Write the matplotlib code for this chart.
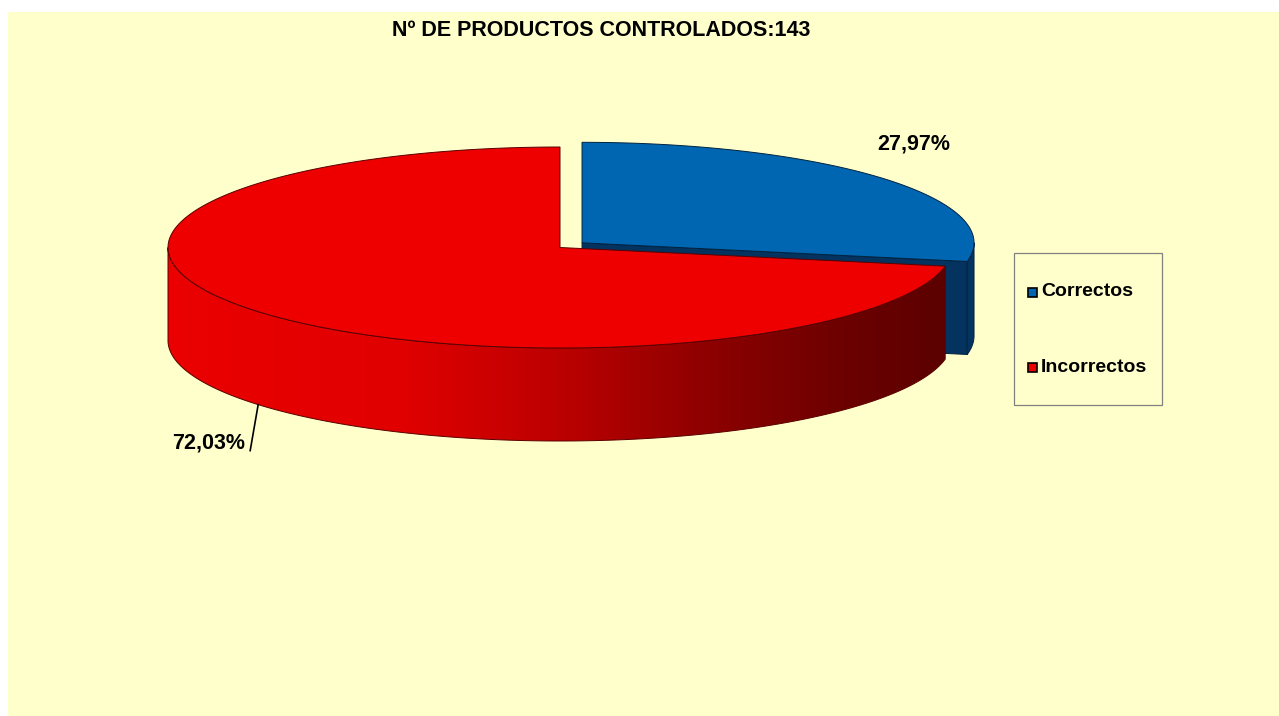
import numpy as np
import matplotlib
matplotlib.use('Agg')
import matplotlib.pyplot as plt
from matplotlib.patches import Polygon, Rectangle
from matplotlib.colors import LinearSegmentedColormap

# ---- data ----
categories = ['Correctos', 'Incorrectos']
counts = [40, 103]
pct_labels = ['27,97%', '72,03%']
title_text = 'Nº DE PRODUCTOS CONTROLADOS:143'

plt.rcParams['font.family'] = ['Liberation Sans', 'DejaVu Sans']

W, H = 1279, 716
fig = plt.figure(figsize=(W / 100, H / 100), dpi=100)
fig.patch.set_facecolor('white')
ax = fig.add_axes([0, 0, 1, 1])
ax.set_xlim(0, W)
ax.set_ylim(H, 0)
ax.axis('off')

BG = '#FFFFCC'
ax.add_patch(Rectangle((8, 12), W - 8, H - 12, facecolor=BG, edgecolor='none', zorder=0))

# ---- pie geometry (pixel layout) ----
cx, cy, a, b, depth = 560, 247.5, 392, 100.5, 93
explode = [0.073, 0.0]
top_colors = ['#0066B2', '#EE0000']
side_colors = ['#03335E', None]
edge_colors = ['#012240', '#5A0000']

frac = np.array(counts, dtype=float) / sum(counts)
slices = []
start = 90.0
for i, f in enumerate(frac):
    t0 = start - f * 360.0
    t1 = start
    mid = (t0 + t1) / 2
    e = explode[i]
    ox = e * a * np.cos(np.radians(mid))
    oy = -e * b * np.sin(np.radians(mid))
    slices.append(dict(i=i, t0=t0, t1=t1, mid=mid, ox=ox, oy=oy))
    start = t0


def arc(t_a, t_b, ox, oy, dz=0.0, n=200):
    t = np.radians(np.linspace(t_a, t_b, n))
    return np.column_stack([cx + ox + a * np.cos(t), cy + oy - b * np.sin(t) + dz])


def side_poly(t_a, t_b, ox, oy):
    top = arc(t_a, t_b, ox, oy)
    bot = arc(t_b, t_a, ox, oy, depth)
    return np.vstack([top, bot])


red_cmap = LinearSegmentedColormap.from_list('redside', [
    (0.0, (0.92, 0.0, 0.0)),
    (0.30, (0.88, 0.0, 0.0)),
    (0.50, (0.74, 0.0, 0.0)),
    (0.70, (0.55, 0.0, 0.0)),
    (0.88, (0.42, 0.0, 0.0)),
    (1.0, (0.36, 0.0, 0.0)),
])

# back slices first
order = sorted(slices, key=lambda s: -np.sin(np.radians(s['mid'])))
z = 2
for s in order:
    i, t0, t1, ox, oy = s['i'], s['t0'], s['t1'], s['ox'], s['oy']
    apex = np.array([cx + ox, cy + oy])
    ec = edge_colors[i]
    # radial faces facing the viewer
    for t, n_ang in ((t0, t0 - 90), (t1, t1 + 90)):
        if np.sin(np.radians(n_ang)) < -1e-6:
            p_out = arc(t, t, ox, oy, n=1)[0]
            face = np.array([apex, p_out, p_out + [0, depth], apex + [0, depth]])
            fc = side_colors[i] if side_colors[i] else '#600000'
            ax.add_patch(Polygon(face, closed=True, facecolor=fc, edgecolor=ec, lw=0.7, zorder=z))
            z += 1
    # outer side (front half: 180..360 in param angle)
    for k in (-360, 0, 360):
        lo, hi = max(t0, 180 + k), min(t1, 360 + k)
        if hi > lo:
            poly = side_poly(lo, hi, ox, oy)
            if side_colors[i]:
                ax.add_patch(Polygon(poly, closed=True, facecolor=side_colors[i],
                                     edgecolor=ec, lw=0.7, zorder=z))
            else:
                x0, x1 = poly[:, 0].min(), poly[:, 0].max()
                y0, y1 = poly[:, 1].min(), poly[:, 1].max()
                grad = np.linspace(0, 1, 512)[None, :]
                im = ax.imshow(grad, cmap=red_cmap, extent=(x0, x1, y1, y0),
                               aspect='auto', zorder=z, interpolation='bilinear')
                clip = Polygon(poly, closed=True, facecolor='none', edgecolor='none',
                               transform=ax.transData)
                ax.add_patch(clip)
                im.set_clip_path(clip)
                ax.add_patch(Polygon(poly, closed=True, facecolor='none', edgecolor=ec,
                                     lw=0.7, zorder=z + 0.5))
            z += 1
    # top face
    top = np.vstack([apex, arc(t0, t1, ox, oy)])
    ax.add_patch(Polygon(top, closed=True, facecolor=top_colors[i], edgecolor=ec, lw=0.7, zorder=z))
    z += 1

ax.set_xlim(0, W)
ax.set_ylim(H, 0)

# ---- percentage labels ----
bold = dict(fontsize=15.5, fontweight='bold', color='black')
ax.text(914, 144, pct_labels[0], ha='center', va='center', zorder=20, **bold)
s_red = slices[1]
m = np.radians(s_red['mid'])
lx = cx + s_red['ox'] + a * np.cos(m)
ly = cy + s_red['oy'] - b * np.sin(m) + depth
ax.plot([lx, lx - 8], [ly, ly + 46], color='black', lw=1.2, zorder=20)
ax.text(209, 443, pct_labels[1], ha='center', va='center', zorder=20, **bold)

# ---- title ----
ax.text(601, 30.5, title_text, ha='center', va='center', fontsize=15.5, fontweight='bold',
        color='black', zorder=20)

# ---- legend (manual) ----
ax.add_patch(Rectangle((1014, 253), 148, 152, facecolor=BG, edgecolor='#808080', lw=0.9, zorder=20))
leg_y = [292, 367]
for i, cat in enumerate(categories):
    ax.add_patch(Rectangle((1028, leg_y[i] - 4.5), 9, 9, facecolor=top_colors[i],
                           edgecolor='black', lw=1.2, zorder=21))
    ax.text(1041, leg_y[i], cat, ha='left', va='center', fontsize=14, fontweight='bold',
            color='black', zorder=21)

fig.savefig('out.png', dpi=100, facecolor=fig.get_facecolor())
